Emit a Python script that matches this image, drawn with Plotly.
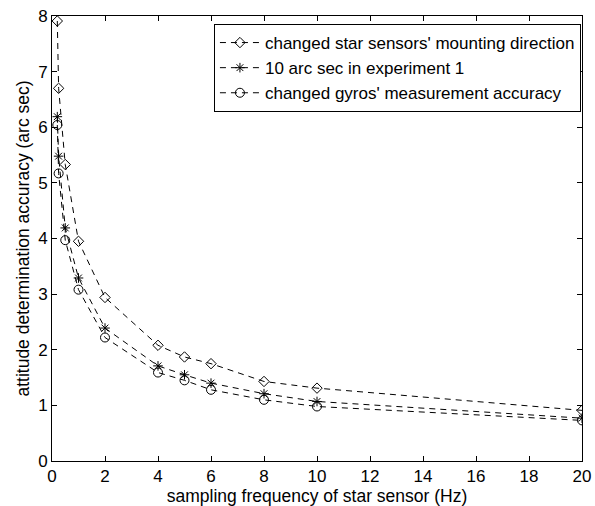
import plotly.graph_objects as go

# sampling frequency (Hz)
freq = [0.2, 0.25, 0.5, 1, 2, 4, 5, 6, 8, 10, 20]

# attitude determination accuracy (arc sec)
mounting = [7.91, 6.70, 5.33, 3.95, 2.94, 2.08, 1.87, 1.75, 1.43, 1.31, 0.91]
exp1 = [6.19, 5.48, 4.19, 3.29, 2.39, 1.71, 1.55, 1.40, 1.21, 1.07, 0.77]
gyros = [6.04, 5.17, 3.97, 3.08, 2.22, 1.59, 1.45, 1.28, 1.10, 0.98, 0.73]

names = ["changed star sensors' mounting direction",
         "10 arc sec in experiment 1",
         "changed gyros' measurement accuracy"]
symbols = ["diamond-open", "asterisk-open", "circle-open"]
sizes = [8, 8, 9]

fnt = 'Arial, Liberation Sans'

fig = go.Figure()
for ys, nm, sym, sz in zip([mounting, exp1, gyros], names, symbols, sizes):
    fig.add_trace(go.Scatter(
        x=freq, y=ys, name=nm, mode='lines+markers',
        line=dict(color='black', width=1, dash='6px,5px'),
        marker=dict(symbol=sym, size=sz, color='black', line=dict(color='black', width=1)),
    ))

axis_common = dict(
    showline=True, linecolor='black', linewidth=1, mirror='ticks',
    ticks='inside', ticklen=5, tickcolor='black', showgrid=False, zeroline=False,
    tickfont=dict(family=fnt, size=17, color='black'), automargin=False,
)
fig.update_xaxes(range=[0, 20], dtick=2, **axis_common,
                 title=dict(text='sampling frequency of star sensor (Hz)',
                            font=dict(family=fnt, size=17.5, color='black'),
                            standoff=4))
fig.update_yaxes(range=[0, 8], dtick=1, **axis_common,
                 title=dict(text='attitude determination accuracy (arc sec)',
                            font=dict(family=fnt, size=17.5, color='black'),
                            standoff=4))

fig.update_layout(
    width=595, height=506,
    margin=dict(l=52, r=13, t=16, b=45),
    plot_bgcolor='white', paper_bgcolor='white',
    font=dict(family=fnt, size=17, color='black'),
    legend=dict(x=0.998, y=0.982, xanchor='right', yanchor='top',
                bordercolor='black', borderwidth=1, bgcolor='white',
                font=dict(size=17), tracegroupgap=0, itemwidth=40),
)

# drop the browser's default body margin so the figure sits at the page corner
fig.write_html("out.html", config={'displayModeBar': False},
               post_script="document.body.style.margin='0';")
